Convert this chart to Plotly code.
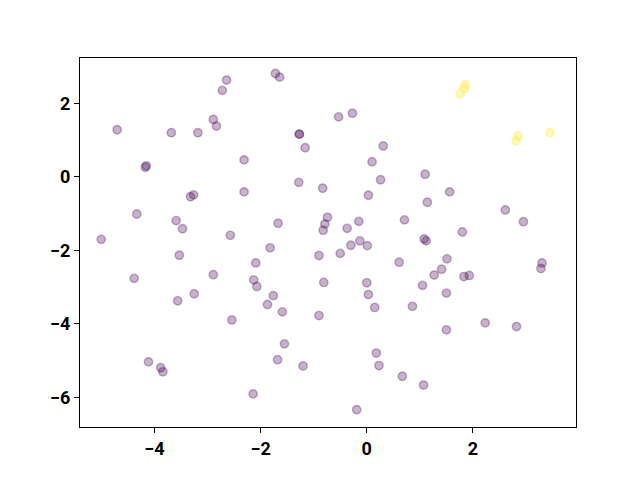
import plotly.graph_objects as go

# purple points (class 0)
x0 = [-4.70, -3.68, -3.18, -2.89, -2.83, -2.72, -2.64, -1.72, -1.64, -1.27, -1.27, -1.16,
      -4.15, -4.17, -2.31, -1.28, -0.83, -3.26, -3.32, -2.31, -4.33, -3.59, -3.47, -1.67,
      -2.57, -5.00, -1.82, -0.74, -0.79, -0.82, -0.53, -0.27, 0.31, 0.10, 0.26, 1.10,
      0.03, 1.56, 1.14, 2.61, 2.95, 0.71, -0.15, -0.37, 1.80, 1.08, 1.12, -0.30,
      -0.13, 0.01, -0.90, -0.50, 0.61, 1.51, 1.41, 1.27, 1.83, 1.93, 3.30, 3.28,
      -0.81, 0.00, 0.03, 1.05, 1.50, 0.15, 0.86, -0.90, 2.23, 2.82, 1.50, 0.18,
      0.23, 0.67, 1.07, -0.19, -3.53, -2.09, -4.38, -2.89, -2.13, -2.07, -3.25, -3.56,
      -1.76, -1.87, -1.59, -2.54, -1.55, -1.68, -1.20, -4.11, -3.88, -3.84, -2.14]
y0 = [1.28, 1.20, 1.20, 1.56, 1.38, 2.35, 2.63, 2.81, 2.71, 1.16, 1.16, 0.79,
      0.30, 0.26, 0.46, -0.15, -0.31, -0.49, -0.54, -0.41, -1.01, -1.19, -1.41, -1.26,
      -1.59, -1.70, -1.93, -1.10, -1.28, -1.45, 1.63, 1.73, 0.84, 0.41, -0.08, 0.07,
      -0.50, -0.41, -0.69, -0.90, -1.22, -1.17, -1.21, -1.40, -1.50, -1.69, -1.74, -1.86,
      -1.74, -1.87, -2.14, -2.08, -2.32, -2.23, -2.51, -2.67, -2.71, -2.68, -2.34, -2.49,
      -2.87, -2.88, -3.20, -2.95, -3.16, -3.55, -3.52, -3.77, -3.97, -4.07, -4.16, -4.79,
      -5.13, -5.42, -5.66, -6.33, -2.13, -2.34, -2.76, -2.66, -2.80, -2.98, -3.18, -3.37,
      -3.23, -3.47, -3.67, -3.89, -4.54, -4.97, -5.14, -5.03, -5.19, -5.30, -5.90]

# yellow points (class 1)
x1 = [1.86, 1.84, 1.76, 2.85, 2.81, 3.45]
y1 = [2.51, 2.41, 2.26, 1.11, 0.98, 1.20]

x_ticks = [-4, -2, 0, 2]
y_ticks = [-6, -4, -2, 0, 2]

purple = "rgba(68,1,84,0.3)"
yellow = "rgba(253,231,37,0.3)"

fig = go.Figure()
fig.add_trace(go.Scatter(x=x0, y=y0, mode="markers",
                         marker=dict(size=8.4, color=purple, line=dict(color=purple, width=1.4)),
                         showlegend=False, hoverinfo="skip"))
fig.add_trace(go.Scatter(x=x1, y=y1, mode="markers",
                         marker=dict(size=8.4, color=yellow, line=dict(color=yellow, width=1.4)),
                         showlegend=False, hoverinfo="skip"))

axis_common = dict(showgrid=False, zeroline=False, showline=True, linecolor="black",
                   linewidth=1, mirror=True, ticks="outside", ticklen=5, tickwidth=1,
                   tickcolor="black",
                   tickfont=dict(family="Roboto", size=18, color="black", weight="bold"))

fig.update_xaxes(range=[-5.40, 3.94], tickvals=x_ticks, **axis_common)
fig.update_yaxes(range=[-6.80, 3.23], tickvals=y_ticks, **axis_common)

fig.update_layout(width=640, height=480, paper_bgcolor="white", plot_bgcolor="white",
                  margin=dict(l=72, r=72, t=50, b=61))

fig.write_html("out.html")
